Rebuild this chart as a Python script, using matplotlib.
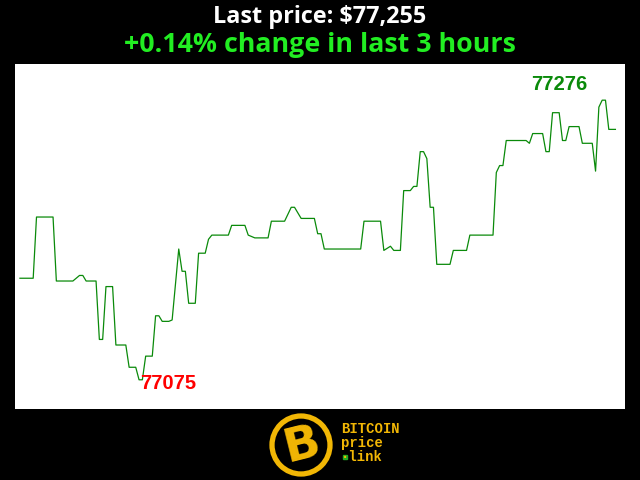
import matplotlib.pyplot as plt
from matplotlib.patches import Circle

# minutes since start of window, price in USD
minutos = [0, 4, 5, 10, 11, 16, 18, 19, 20, 23, 24, 25, 26, 28, 29, 32, 33, 35, 36, 37,
           38, 40, 41, 42, 43, 45, 46, 48, 49, 50, 51, 53, 54, 56, 57, 58, 63, 64, 68, 69,
           71, 75, 76, 80, 82, 83, 85, 89, 90, 91, 92, 103, 104, 109, 110, 112, 113, 115, 116, 118,
           119, 120, 121, 122, 123, 124, 125, 126, 130, 131, 135, 136, 143, 144, 145, 146, 147, 153, 154, 155,
           158, 159, 160, 161, 163, 164, 165, 166, 169, 170, 173, 174, 175, 176, 177, 178, 180]
precos = [77148, 77148, 77192, 77192, 77146, 77146, 77150, 77150, 77146, 77146, 77104, 77104, 77142, 77142, 77100, 77100, 77084, 77084, 77075, 77075,
          77092, 77092, 77121, 77121, 77117, 77117, 77118, 77169, 77153, 77153, 77130, 77130, 77166, 77166, 77176, 77179, 77179, 77186, 77186, 77179,
          77177, 77177, 77189, 77189, 77199, 77199, 77191, 77191, 77180, 77180, 77169, 77169, 77189, 77189, 77168, 77171, 77168, 77168, 77211, 77211,
          77214, 77214, 77239, 77239, 77234, 77199, 77199, 77158, 77158, 77168, 77168, 77179, 77179, 77224, 77229, 77229, 77247, 77247, 77245, 77252,
          77252, 77239, 77239, 77267, 77267, 77247, 77247, 77257, 77257, 77245, 77245, 77225, 77271, 77276, 77276, 77255, 77255]

ultimo = precos[-1]
variacao = (precos[-1] - precos[0]) / precos[0] * 100

fig = plt.figure(figsize=(6.4, 4.8), dpi=100, facecolor="black")
ax = fig.add_axes([15 / 640, 71 / 480, 610 / 640, 345 / 480])
ax.set_facecolor("white")
ax.plot(minutos, precos, color="#0a8a0a", linewidth=0.9)
ax.set_xlim(-1.5, 182.9)
ax.set_ylim(77054, 77302)
ax.set_xticks([])
ax.set_yticks([])
for s in ax.spines.values():
    s.set_visible(False)

# rotulos de minimo e maximo
i_min = precos.index(min(precos))
i_max = precos.index(max(precos))
ax.annotate(str(min(precos)), (minutos[i_min], precos[i_min]), xytext=(1, -4),
            textcoords="offset pixels", ha="left", va="center",
            color="red", fontsize=14.5, fontweight="bold", family="Liberation Sans")
ax.annotate(str(max(precos)), (minutos[i_max], precos[i_max]), xytext=(-15, 16),
            textcoords="offset pixels", ha="right", va="center",
            color="#0a8a0a", fontsize=14.5, fontweight="bold", family="Liberation Sans")

# titulos
fig.text(0.5, 1 - 17 / 480, "Last price: ${:,}".format(ultimo), ha="center", va="center",
         color="white", fontsize=16.8, fontweight="bold", family="Open Sans")
fig.text(0.5, 1 - 45 / 480, "{:+.2f}% change in last 3 hours".format(variacao), ha="center", va="center",
         color="#22ee22", fontsize=19.3, fontweight="bold", family="Open Sans")

# logo
ouro = "#f2b705"
logo = fig.add_axes([0, 0, 1, 1], facecolor="none")
logo.set_xlim(0, 640)
logo.set_ylim(480, 0)
logo.axis("off")
logo.add_patch(Circle((301, 445), 29, facecolor="black", edgecolor=ouro, linewidth=3.8))
logo.text(302, 446, "B", color=ouro, fontsize=34, fontweight="heavy", family="DejaVu Sans",
          ha="center", va="center", rotation=14)
logo.text(341, 429, "BITCOIN", color=ouro, fontsize=10, fontweight="bold", family="Liberation Mono", va="center")
logo.text(341, 443, "price", color=ouro, fontsize=10, fontweight="bold", family="Liberation Mono", va="center")
logo.text(341, 457, "\u00b7link", color=ouro, fontsize=10, fontweight="bold", family="Liberation Mono", va="center")
logo.plot([345], [457], "s", color="#22aa22", markersize=2.2)

fig.savefig("out.png", dpi=100, facecolor="black")
plt.close()
